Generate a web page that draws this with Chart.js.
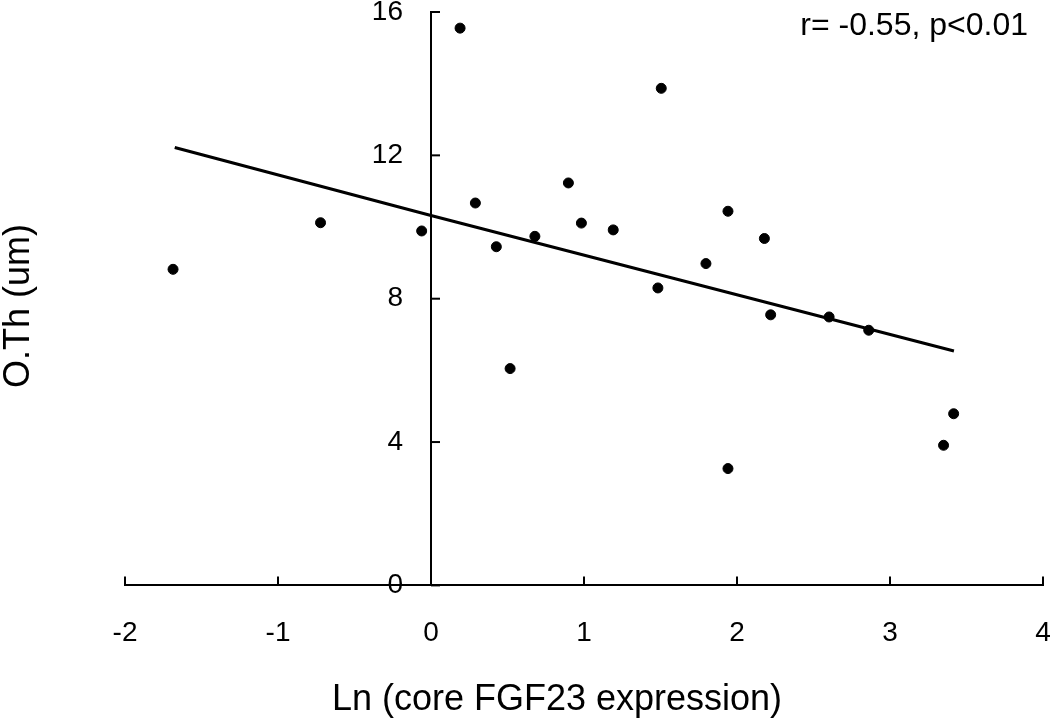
<!DOCTYPE html>
<html>
<head>
<meta charset="utf-8">
<script src="https://cdn.jsdelivr.net/npm/chart.js@4.4.1/dist/chart.umd.min.js"></script>
<style>
  html, body { margin:0; padding:0; background:#fff; overflow:hidden; }
  canvas { display:block; }
</style>
</head>
<body>
<canvas id="chart" width="1050" height="723"></canvas>
<script>
// ── data ────────────────────────────────────────────────────
const lnFgf23 = [0.19, -1.686, -0.722, -0.061, 0.29, 0.427, 0.679, 1.505, 0.898, 0.983, 1.191,
                 1.941, 2.179, 1.797, 1.483, 0.517, 2.22, 2.602, 2.861, 3.416, 3.35, 1.941];
const oTh     = [15.55, 8.82, 10.12, 9.89, 10.67, 9.45, 9.74, 13.87, 11.23, 10.11, 9.92,
                 10.44, 9.68, 8.98, 8.30, 6.05, 7.55, 7.49, 7.12, 4.79, 3.91, 3.26];
const fitX = [-1.675, 0, 3.418];
const fitY = [12.22, 10.32, 6.54];
const xTicks = [-2, -1, 0, 1, 2, 3, 4];
const yTicks = [0, 4, 8, 12, 16];
const X_TITLE = 'Ln (core FGF23 expression)';
const Y_TITLE = 'O.Th (um)';
const STAT_TEXT = 'r= -0.55, p<0.01';

const FONT = "'Liberation Sans', Arial, sans-serif";
const INK = '#000';

// y axis sits at x=0, so its labels, inward tick marks, titles and stats are drawn here
const decor = {
  id:'decor',
  afterDraw(chart) {
    const { ctx, scales:{ x, y } } = chart;
    ctx.save();
    ctx.strokeStyle = INK; ctx.lineWidth = 2;
    const y0 = y.getPixelForValue(0), x0 = x.getPixelForValue(0);
    xTicks.forEach(v => {
      const px = x.getPixelForValue(v);
      ctx.beginPath(); ctx.moveTo(px, y0); ctx.lineTo(px, y0 - 9); ctx.stroke();
    });
    ctx.fillStyle = INK;
    ctx.font = `28px ${FONT}`;
    ctx.textAlign = 'right'; ctx.textBaseline = 'middle';
    yTicks.forEach(v => {
      const py = y.getPixelForValue(v);
      ctx.beginPath(); ctx.moveTo(x0, py); ctx.lineTo(x0 + 9, py); ctx.stroke();
      ctx.fillText(String(v), x0 - 28, py);
    });
    ctx.font = `36px ${FONT}`;
    ctx.textAlign = 'center';
    ctx.fillText(X_TITLE, 557, 700);
    ctx.save();
    ctx.translate(19, 306); ctx.rotate(-Math.PI/2);
    ctx.fillText(Y_TITLE, 0, 0);
    ctx.restore();
    ctx.font = `32px ${FONT}`;
    ctx.textAlign = 'right';
    ctx.fillText(STAT_TEXT, 1028, 26);
    ctx.restore();
  }
};

new Chart(document.getElementById('chart'), {
  type:'scatter',
  data:{ datasets:[
    { label:'fit', type:'line', data: fitX.map((v,i) => ({ x:v, y:fitY[i] })),
      borderColor:INK, borderWidth:3, pointRadius:0, fill:false, tension:0, order:2 },
    { label:'O.Th', data: lnFgf23.map((v,i) => ({ x:v, y:oTh[i] })),
      backgroundColor:INK, borderColor:INK, pointRadius:5, pointHoverRadius:5, order:1 }
  ]},
  options:{
    responsive:false, animation:false, devicePixelRatio:1,
    layout:{ padding:{ left:125, right:7, top:12, bottom:42 } },
    plugins:{ legend:{ display:false }, tooltip:{ enabled:false } },
    scales:{
      x:{ type:'linear', min:-2, max:4,
        afterBuildTicks: s => { s.ticks = xTicks.map(v => ({ value:v })); },
        afterFit: s => { s.paddingRight = 0; },
        grid:{ display:false, drawTicks:false },
        border:{ display:true, color:INK, width:2 },
        ticks:{ color:INK, padding:31, maxRotation:0, font:{ family:FONT, size:28 } } },
      y:{ type:'linear', min:0, max:16, position:{ x:0 },
        afterBuildTicks: s => { s.ticks = yTicks.map(v => ({ value:v })); },
        afterFit: s => { s.width = 0; },
        grid:{ display:false, drawTicks:false },
        border:{ display:true, color:INK, width:2 },
        ticks:{ display:false } }
    }
  },
  plugins:[decor]
});
</script>
</body>
</html>
